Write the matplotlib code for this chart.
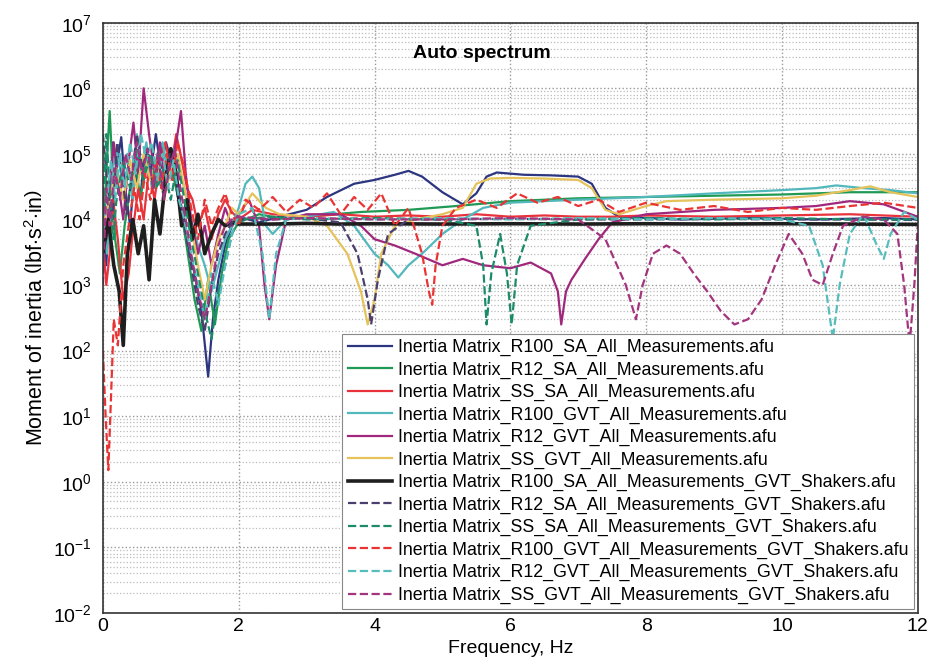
import matplotlib
matplotlib.use("Agg")
import matplotlib.pyplot as plt
from matplotlib.ticker import FixedLocator, NullFormatter

plt.rcParams['font.family'] = ['Liberation Sans', 'DejaVu Sans']
plt.rcParams['mathtext.fontset'] = 'custom'
plt.rcParams['mathtext.rm'] = 'Liberation Sans'
plt.rcParams['mathtext.it'] = 'Liberation Sans:italic'
plt.rcParams['mathtext.bf'] = 'Liberation Sans:bold'

# --- data (frequency in Hz, moment of inertia) ---
freq_r100_sa = [0, 0.05, 0.1, 0.15, 0.2, 0.27, 0.33, 0.4, 0.47, 0.55, 0.62, 0.7, 0.78, 0.85, 0.93, 1.0, 1.08,
                1.15, 1.25, 1.35, 1.45, 1.55, 1.62, 1.7, 1.8, 1.9, 2.0, 2.3, 2.6, 3.0, 3.3, 3.7, 4.0, 4.3, 4.5,
                4.7, 5.0, 5.3, 5.5, 5.65, 5.8, 6.2, 6.6, 7.0, 7.2, 7.4, 7.6, 8.5, 9.5, 10.5, 11.5, 12]
val_r100_sa = [3e4, 2e3, 2e4, 1.5e5, 6e4, 1.8e5, 3e4, 8e3, 6e4, 2e4, 1.2e5, 5e4, 2e5, 6e4, 1.5e5, 8e4, 3e4,
               1.2e4, 4e3, 1.5e3, 4e2, 40, 3e2, 1.2e3, 4e3, 8e3, 1.1e4, 9e3, 1.1e4, 1.4e4, 2.2e4, 3.5e4, 4e4,
               4.8e4, 5.5e4, 4.5e4, 2.6e4, 1.7e4, 2.5e4, 4.5e4, 5.2e4, 4.8e4, 4.7e4, 4.5e4, 3.5e4, 1.5e4,
               1.1e4, 1e4, 1.05e4, 1e4, 1.05e4, 1e4]

freq_r12_sa = [0, 0.04, 0.08, 0.1, 0.13, 0.18, 0.25, 0.32, 0.4, 0.48, 0.55, 0.65, 0.75, 0.85, 0.95, 1.05,
               1.15, 1.25, 1.35, 1.45, 1.55, 1.65, 1.75, 1.85, 2.0, 2.3, 2.7, 3.2, 3.8, 4.5, 5.2, 6.0, 7.0,
               8.0, 9.0, 10.0, 11.0, 12.0]
val_r12_sa = [2e3, 3e4, 2e5, 4.5e5, 1e5, 5e3, 1.5e3, 8e3, 3e4, 8e4, 2e4, 9e4, 3e4, 1.4e5, 7e4, 4e4, 1.5e4,
              3e3, 6e2, 2e2, 1.2e3, 2.5e2, 1.5e3, 5e3, 9e3, 1.2e4, 1e4, 1.15e4, 1.3e4, 1.4e4, 1.6e4, 1.9e4,
              2.1e4, 2.2e4, 2.3e4, 2.4e4, 2.6e4, 2.6e4]

freq_ss_sa = [0, 0.05, 0.1, 0.15, 0.22, 0.3, 0.38, 0.45, 0.52, 0.6, 0.68, 0.76, 0.84, 0.92, 1.0, 1.08, 1.16,
              1.24, 1.32, 1.4, 1.5, 1.6, 1.7, 1.8, 1.9, 2.0, 2.2, 2.5, 3.0, 3.5, 4.0, 4.5, 5.0, 5.5, 6.0, 6.5,
              7.0, 7.5, 8.0, 9.0, 10.0, 11.0, 12.0]
val_ss_sa = [5e3, 1e3, 3e3, 2e4, 5e3, 6e2, 1.5e3, 8e3, 3e4, 1e4, 6e4, 2e4, 8e4, 1.5e5, 6e4, 2e5, 8e4, 3e4,
             2e4, 8e3, 1.5e4, 5e3, 1.2e4, 2e4, 1.3e4, 1e4, 1.4e4, 1.2e4, 1.1e4, 1.2e4, 1.1e4, 1.15e4, 1.1e4,
             1.2e4, 1.1e4, 1.15e4, 1.1e4, 1.1e4, 1.15e4, 1.1e4, 1.15e4, 1.2e4, 1.1e4]

freq_r100_gvt = [0, 0.06, 0.12, 0.2, 0.28, 0.36, 0.44, 0.5, 0.57, 0.64, 0.72, 0.8, 0.88, 0.96, 1.04, 1.12,
                 1.2, 1.3, 1.4, 1.5, 1.6, 1.7, 1.8, 1.9, 2.0, 2.1, 2.2, 2.3, 2.4, 2.5, 2.7, 3.0, 3.4, 3.7, 4.0,
                 4.2, 4.35, 4.5, 4.7, 5.0, 5.3, 5.6, 6.0, 7.0, 8.0, 9.0, 10.0, 10.5, 10.8, 11.2, 11.6, 12.0]
val_r100_gvt = [1e4, 3e3, 4e4, 1.2e5, 4e4, 1e5, 2e4, 2e5, 6e4, 1.5e5, 3e4, 1e5, 1.5e5, 5e4, 1.2e5, 6e4,
                3e4, 1e4, 4e3, 2e3, 8e2, 2e3, 5e3, 8e3, 1.5e4, 3.5e4, 4.5e4, 3e4, 8e3, 6e3, 1e4, 1.1e4,
                1.3e4, 8e3, 3e3, 2e3, 1.3e3, 2e3, 3e3, 6e3, 1e4, 1.5e4, 1.8e4, 2e4, 2.2e4, 2.5e4, 2.8e4,
                3e4, 3.3e4, 3e4, 2.8e4, 2.5e4]

freq_r12_gvt = [0, 0.05, 0.1, 0.16, 0.22, 0.3, 0.38, 0.45, 0.52, 0.6, 0.68, 0.76, 0.84, 0.92, 1.0, 1.08,
                1.15, 1.22, 1.3, 1.4, 1.5, 1.6, 1.7, 1.8, 1.9, 2.0, 2.15, 2.3, 2.38, 2.45, 2.55, 2.7, 3.0,
                3.5, 3.8, 4.0, 4.3, 4.6, 5.0, 5.3, 5.6, 6.0, 6.3, 6.6, 6.7, 6.75, 6.82, 6.9, 7.1, 7.3, 7.5,
                8.0, 9.0, 10.0, 10.5, 11.0, 11.5, 12.0]
val_r12_gvt = [2e4, 5e3, 3e4, 1.5e5, 4e4, 1e4, 8e4, 3e5, 5e4, 1e6, 2e5, 5e4, 1.5e5, 3e4, 6e4, 1.5e5, 4.5e5,
               5e4, 1e4, 3e3, 8e3, 2e3, 6e3, 1.5e4, 8e3, 1.2e4, 2e4, 8e3, 1e3, 3e2, 2e3, 1e4, 1.2e4, 1.2e4,
               8e3, 5e3, 4e3, 3e3, 2e3, 2.5e3, 2e3, 1.8e3, 2.2e3, 1.5e3, 8e2, 2.5e2, 8e2, 1.2e3, 2.5e3,
               5e3, 9e3, 1.2e4, 1.4e4, 1.5e4, 1.6e4, 1.9e4, 1.7e4, 1.1e4]

freq_ss_gvt = [0, 0.1, 0.2, 0.3, 0.4, 0.5, 0.6, 0.7, 0.8, 0.9, 1.0, 1.1, 1.2, 1.3, 1.4, 1.5, 1.6, 1.7, 1.8,
               1.9, 2.0, 2.2, 2.4, 2.6, 3.0, 3.3, 3.6, 3.8, 3.9, 4.0, 4.1, 4.3, 4.6, 5.0, 5.3, 5.5, 5.7, 6.0,
               6.5, 7.0, 7.2, 7.4, 7.6, 8.0, 8.3, 9.0, 10.0, 10.5, 11.0, 11.3, 11.6, 12.0]
val_ss_gvt = [8e3, 2e4, 6e4, 2e4, 8e4, 3e4, 1e5, 4e4, 8e4, 2e4, 6e4, 1e5, 3e4, 8e3, 2e3, 6e2, 2e3, 5e3,
              8e3, 1.5e4, 1.2e4, 2.5e4, 1.5e4, 1.2e4, 1.1e4, 8e3, 3e3, 8e2, 2.5e2, 6e2, 3e3, 8e3, 1e4,
              1.2e4, 1.5e4, 3.5e4, 4.2e4, 4.3e4, 4.2e4, 4e4, 3e4, 1.4e4, 1.2e4, 1.6e4, 1.9e4, 2e4, 2.1e4,
              2.3e4, 2.8e4, 3.2e4, 2.6e4, 2.2e4]

freq_r100_sa_sh = [0, 0.08, 0.16, 0.24, 0.3, 0.36, 0.44, 0.52, 0.6, 0.68, 0.76, 0.84, 0.92, 1.0, 1.08, 1.16,
                   1.24, 1.32, 1.4, 1.5, 1.6, 1.7, 1.8, 1.9, 2.0, 2.5, 3.0, 3.5, 4.0, 5.0, 6.0, 7.0, 8.0, 9.0,
                   10.0, 11.0, 12.0]
val_r100_sa_sh = [3e3, 1e4, 2e3, 8e2, 1.2e2, 3e3, 1e4, 3e3, 8e3, 1.2e3, 2e4, 6e3, 4e4, 1.2e5, 5e4, 8e3,
                  2e4, 5e3, 1.2e4, 3e3, 6e3, 1e4, 8e3, 9e3, 8.5e3, 8.5e3, 8.7e3, 8.5e3, 8.6e3, 8.5e3, 8.6e3,
                  8.5e3, 8.6e3, 8.5e3, 8.6e3, 8.5e3, 8.4e3]

freq_r12_sa_sh = [0, 0.07, 0.14, 0.21, 0.28, 0.35, 0.42, 0.5, 0.58, 0.66, 0.74, 0.82, 0.9, 0.98, 1.06, 1.14,
                  1.22, 1.3, 1.4, 1.5, 1.6, 1.7, 1.8, 1.9, 2.0, 2.5, 3.0, 3.5, 3.75, 3.9, 3.95, 4.05, 4.2, 4.5,
                  5.0, 6.0, 7.0, 8.0, 9.0, 10.0, 11.0, 12.0]
val_r12_sa_sh = [2e5, 3e4, 1e4, 1.5e5, 5e4, 1.2e4, 4e4, 2e5, 6e4, 1.2e5, 3e4, 8e4, 2e4, 1e5, 5e4, 2e4, 6e3,
                 2e3, 5e2, 2e2, 1e3, 3e3, 6e3, 9e3, 1e4, 1e4, 1.05e4, 9e3, 3e3, 6e2, 2.5e2, 1.2e3, 6e3, 1e4,
                 1e4, 1.02e4, 1e4, 1e4, 1.02e4, 1e4, 1e4, 9.8e3]

freq_ss_sa_sh = [0, 0.05, 0.1, 0.15, 0.2, 0.3, 0.4, 0.5, 0.6, 0.7, 0.8, 0.9, 1.0, 1.1, 1.2, 1.3, 1.4, 1.5,
                 1.6, 1.7, 1.8, 1.9, 2.0, 2.5, 3.0, 4.0, 5.0, 5.5, 5.6, 5.65, 5.72, 5.85, 5.95, 6.02, 6.1,
                 6.3, 7.0, 8.0, 9.0, 10.0, 11.0, 12.0]
val_ss_sa_sh = [1e4, 2e5, 3e4, 5e3, 2e4, 8e4, 3e4, 1.2e5, 4e4, 1e5, 3e4, 6e4, 2e4, 8e4, 2e4, 5e3, 1.5e3,
                4e2, 1.5e2, 8e2, 2e3, 6e3, 1e4, 1.1e4, 1e4, 1.05e4, 1e4, 8e3, 2e3, 2.5e2, 1.5e3, 6e3, 1.5e3,
                2.5e2, 2e3, 8e3, 1e4, 1.05e4, 1e4, 1.05e4, 1e4, 1e4]

freq_r100_gvt_sh = [0, 0.04, 0.08, 0.12, 0.16, 0.22, 0.3, 0.38, 0.46, 0.54, 0.62, 0.7, 0.78, 0.86, 0.94,
                    1.02, 1.1, 1.2, 1.3, 1.4, 1.5, 1.6, 1.7, 1.8, 1.9, 2.0, 2.1, 2.3, 2.5, 2.7, 2.9, 3.1, 3.3,
                    3.5, 3.7, 3.9, 4.1, 4.3, 4.5, 4.7, 4.8, 4.85, 4.9, 5.0, 5.2, 5.5, 5.8, 6.1, 6.4, 6.7, 7.0,
                    7.3, 7.6, 8.0, 8.5, 9.0, 9.5, 10.0, 10.5, 11.0, 11.5, 12.0]
val_r100_gvt_sh = [1e2, 10, 1.5, 20, 3e2, 1.2e2, 2e3, 8e3, 3e4, 1e4, 5e4, 2e4, 8e4, 3e4, 1e5, 4e4, 1.5e5,
                   6e4, 1.5e4, 5e3, 2e4, 8e3, 1.5e4, 2.5e4, 1.2e4, 8e3, 2e4, 1.4e4, 2.2e4, 1.3e4, 2e4, 1.5e4,
                   2.5e4, 1.2e4, 2.2e4, 1.4e4, 2.5e4, 8e3, 1.5e4, 3e3, 8e2, 5e2, 2e3, 8e3, 1.5e4, 2e4, 1.5e4,
                   2.5e4, 1.8e4, 2.2e4, 1.6e4, 2e4, 1.3e4, 1.8e4, 1.4e4, 1.6e4, 1.3e4, 1.5e4, 1.4e4, 1.6e4,
                   1.8e4, 1.5e4]

freq_r12_gvt_sh = [0, 0.06, 0.12, 0.18, 0.25, 0.32, 0.4, 0.48, 0.56, 0.64, 0.72, 0.8, 0.88, 0.96, 1.04,
                   1.12, 1.2, 1.3, 1.4, 1.5, 1.6, 1.7, 1.8, 1.9, 2.0, 2.2, 2.35, 2.45, 2.55, 2.7, 3.0, 4.0,
                   5.0, 6.0, 7.0, 8.0, 9.0, 10.0, 10.4, 10.6, 10.75, 10.85, 11.0, 11.2, 11.4, 11.5, 11.6,
                   11.8, 12.0]
val_r12_gvt_sh = [5e3, 2e4, 8e4, 2e4, 1e5, 3e4, 1.5e5, 5e4, 2e5, 8e4, 1.5e5, 4e4, 1e5, 3e4, 8e4, 2e4, 1e4,
                  3e3, 1e3, 3e2, 1.5e3, 5e2, 2e3, 6e3, 1.2e4, 1.5e4, 3e3, 3e2, 3e3, 1e4, 1.05e4, 1e4, 1.05e4,
                  1e4, 1.05e4, 1e4, 1.05e4, 1e4, 8e3, 2e3, 1.5e2, 1e3, 6e3, 1.2e4, 4e3, 2.5e3, 6e3, 1.3e4, 1e4]

freq_ss_gvt_sh = [0, 0.05, 0.1, 0.17, 0.25, 0.33, 0.42, 0.5, 0.58, 0.66, 0.74, 0.82, 0.9, 0.98, 1.06, 1.14,
                  1.22, 1.3, 1.4, 1.5, 1.6, 1.7, 1.8, 1.9, 2.0, 2.5, 3.0, 4.0, 5.0, 6.0, 7.0, 7.4, 7.7, 7.85,
                  7.95, 8.1, 8.3, 8.5, 8.7, 8.9, 9.1, 9.3, 9.5, 9.7, 9.9, 10.1, 10.3, 10.45, 10.6, 10.75, 10.9,
                  11.2, 11.5, 11.7, 11.8, 11.88, 11.95, 12.0]
val_ss_gvt_sh = [1e3, 3e4, 8e3, 6e4, 2e4, 1e5, 4e4, 1.5e5, 5e4, 1.2e5, 3e4, 1e5, 2e4, 6e4, 1.2e5, 3e4, 1e4,
                 3e3, 8e2, 3e2, 1e3, 4e3, 8e3, 1e4, 1.1e4, 1e4, 1.05e4, 1e4, 1e4, 1.05e4, 1e4, 5e3, 1e3, 3e2,
                 1e3, 3e3, 4e3, 3e3, 1.5e3, 8e2, 4e2, 2.5e2, 3e2, 6e2, 2e3, 6e3, 3e3, 1.2e3, 1e3, 3e3, 8e3,
                 1.1e4, 1e4, 6e3, 1e3, 1.2e2, 1e3, 8e3]

labels = [
    'Inertia Matrix_R100_SA_All_Measurements.afu',
    'Inertia Matrix_R12_SA_All_Measurements.afu',
    'Inertia Matrix_SS_SA_All_Measurements.afu',
    'Inertia Matrix_R100_GVT_All_Measurements.afu',
    'Inertia Matrix_R12_GVT_All_Measurements.afu',
    'Inertia Matrix_SS_GVT_All_Measurements.afu',
    'Inertia Matrix_R100_SA_All_Measurements_GVT_Shakers.afu',
    'Inertia Matrix_R12_SA_All_Measurements_GVT_Shakers.afu',
    'Inertia Matrix_SS_SA_All_Measurements_GVT_Shakers.afu',
    'Inertia Matrix_R100_GVT_All_Measurements_GVT_Shakers.afu',
    'Inertia Matrix_R12_GVT_All_Measurements_GVT_Shakers.afu',
    'Inertia Matrix_SS_GVT_All_Measurements_GVT_Shakers.afu',
]

series = [
    (freq_r100_sa, val_r100_sa), (freq_r12_sa, val_r12_sa), (freq_ss_sa, val_ss_sa),
    (freq_r100_gvt, val_r100_gvt), (freq_r12_gvt, val_r12_gvt), (freq_ss_gvt, val_ss_gvt),
    (freq_r100_sa_sh, val_r100_sa_sh), (freq_r12_sa_sh, val_r12_sa_sh), (freq_ss_sa_sh, val_ss_sa_sh),
    (freq_r100_gvt_sh, val_r100_gvt_sh), (freq_r12_gvt_sh, val_r12_gvt_sh), (freq_ss_gvt_sh, val_ss_gvt_sh),
]

colors = ['#2c3580', '#1f9a55', '#e8323c', '#52b8bc', '#a0287c', '#e6c25a',
          '#1e1e1e', '#4a3f6e', '#1d8a6a', '#ea3434', '#56bcbc', '#a3347e']
styles = ['-'] * 7 + ['--'] * 5
widths = [1.6, 1.6, 1.6, 1.6, 1.6, 1.6, 2.6, 1.6, 1.6, 1.6, 1.6, 1.6]

fig = plt.figure(figsize=(9.27, 6.69), dpi=100)
ax = fig.add_axes([0.111, 0.084, 0.879, 0.882])

for (f, v), lab, c, ls, lw in zip(series, labels, colors, styles, widths):
    ax.plot(f, v, color=c, linestyle=ls, linewidth=lw, label=lab)

ax.set_yscale('log')
ax.set_xlim(0, 12)
ax.set_ylim(1e-2, 1e7)
ax.set_xticks([0, 2, 4, 6, 8, 10, 12])
ax.yaxis.set_major_locator(FixedLocator([10.0 ** k for k in range(-2, 8)]))
ax.yaxis.set_minor_locator(FixedLocator([m * 10.0 ** k for k in range(-2, 7) for m in range(2, 10)]))
ax.yaxis.set_minor_formatter(NullFormatter())
ax.tick_params(axis='both', which='both', direction='in', length=0, labelsize=14)
ax.tick_params(axis='y', pad=8)

ax.grid(True, which='major', axis='both', color='#999999', linestyle=':', linewidth=1.0)
ax.grid(True, which='minor', axis='y', color='#bbbbbb', linestyle=':', linewidth=0.9)
ax.set_axisbelow(True)
for sp in ax.spines.values():
    sp.set_linewidth(1.2)
    sp.set_color('#333333')

ax.set_xlabel('Frequency, Hz', fontsize=14)
ax.set_ylabel(r'Moment of inertia $\left(\mathrm{lbf{\cdot}s^{2}{\cdot}in}\right)$', fontsize=15.5,
              labelpad=4)
ax.text(0.465, 0.948, 'Auto spectrum', transform=ax.transAxes, fontsize=14, fontweight='bold',
        ha='center', va='center')

leg = ax.legend(loc='lower right', fontsize=12.8, handlelength=2.5, handletextpad=0.35,
                labelspacing=0.3, borderaxespad=0.2, fancybox=False, framealpha=1.0,
                edgecolor='#888888', borderpad=0.3)
leg.get_frame().set_linewidth(0.8)

fig.savefig('out.png', dpi=100)
